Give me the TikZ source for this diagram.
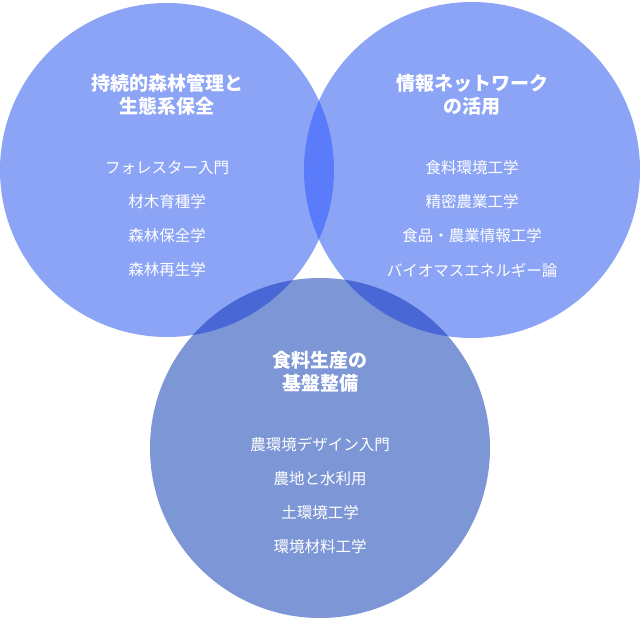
\documentclass[tikz,border=0pt]{standalone}
\usepackage{fontspec}
\setmainfont{Noto Sans CJK JP}
\begin{document}
\begin{tikzpicture}[x=1pt,y=-1pt,
  ttl/.style={text=white,font=\bfseries\fontsize{19}{23}\selectfont,align=center},
  itm/.style={text=white,font=\fontsize{15.5}{18}\selectfont}]
\useasboundingbox (0,0) rectangle (640,618);
\definecolor{ctop}{HTML}{8CA4F6}
\definecolor{cbot}{HTML}{7D96D5}
\definecolor{ctt}{HTML}{5A7CFB}
\definecolor{ctb}{HTML}{4A67D6}
\coordinate (L) at (167,170);
\coordinate (R) at (472,170);
\coordinate (B) at (320,448);
\fill[ctop] (L) circle (167);
\fill[ctop] (R) circle (168);
\begin{scope}\clip (L) circle (167); \fill[ctt] (R) circle (168);\end{scope}
\fill[cbot] (B) circle (170);
\begin{scope}\clip (B) circle (170); \fill[ctb] (L) circle (167); \fill[ctb] (R) circle (168);\end{scope}
\node[ttl] (t1) at (167,95) {持続的森林管理と\\生態系保全};
\node[itm] (a1) at (167,168) {フォレスター入門};
\node[itm] (a2) at (167,202) {材木育種学};
\node[itm] (a3) at (167,236) {森林保全学};
\node[itm] (a4) at (167,270) {森林再生学};
\node[ttl] (t2) at (472,95) {情報ネットワーク\\の活用};
\node[itm] (b1) at (472,168) {食料環境工学};
\node[itm] (b2) at (472,202) {精密農業工学};
\node[itm] (b3) at (472,236) {食品・農業情報工学};
\node[itm] (b4) at (472,270) {バイオマスエネルギー論};
\node[ttl] (t3) at (320,372) {食料生産の\\基盤整備};
\node[itm] (c1) at (320,445) {農環境デザイン入門};
\node[itm] (c2) at (320,479) {農地と水利用};
\node[itm] (c3) at (320,513) {土環境工学};
\node[itm] (c4) at (320,547) {環境材料工学};
\end{tikzpicture}
\end{document}
